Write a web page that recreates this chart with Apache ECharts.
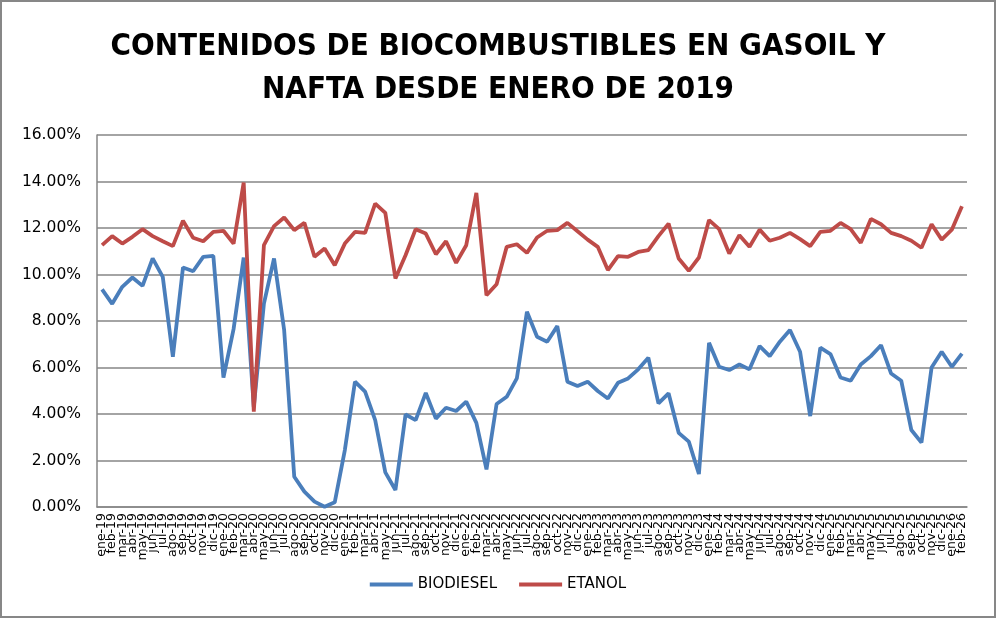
<!DOCTYPE html>
<html lang="es">

<head>
    <meta charset="UTF-8">
    <title>Contenidos de biocombustibles</title>
    <script src="https://cdn.jsdelivr.net/npm/echarts@6/dist/echarts.min.js"></script>
    <style>
        html, body { margin: 0; padding: 0; background: #fff; }
        #chart {
            width: 996px;
            height: 618px;
            box-sizing: border-box;
            border: 2px solid #878787;
        }
    </style>
</head>

<body>
    <div id="chart"></div>

    <script>
        // meses desde ene-19 hasta feb-26
        var meses = ['ene', 'feb', 'mar', 'abr', 'may', 'jun', 'jul', 'ago', 'sep', 'oct', 'nov', 'dic'];
        var categorias = [];
        for (var a = 19; a <= 26; a++) {
            for (var m = 0; m < 12; m++) {
                if (a === 26 && m > 1) break;
                categorias.push(meses[m] + '-' + a);
            }
        }

        // valores en %
        var biodiesel = [
            9.36, 8.74, 9.47, 9.87, 9.51, 10.69, 9.90, 6.46, 10.30, 10.14, 10.76, 10.80,
            5.57, 7.65, 10.73, 4.30, 8.75, 10.69, 7.61, 1.30, 0.66, 0.23, 0.01, 0.20,
            2.45, 5.39, 4.96, 3.74, 1.49, 0.73, 3.98, 3.74, 4.91, 3.80, 4.27, 4.13,
            4.53, 3.62, 1.62, 4.43, 4.74, 5.53, 8.40, 7.32, 7.11, 7.78, 5.39, 5.20,
            5.39, 4.99, 4.67, 5.34, 5.53, 5.92, 6.42, 4.46, 4.89, 3.19, 2.81, 1.42,
            7.06, 6.03, 5.89, 6.13, 5.92, 6.92, 6.49, 7.11, 7.61, 6.68, 3.91, 6.85,
            6.58, 5.57, 5.43, 6.13, 6.49, 6.96, 5.74, 5.43, 3.31, 2.77, 6.00, 6.68,
            6.03, 6.60
        ];
        var etanol = [
            11.26, 11.65, 11.33, 11.62, 11.95, 11.65, 11.43, 11.22, 12.31, 11.58, 11.43, 11.83,
            11.88, 11.33, 13.95, 4.10, 11.26, 12.08, 12.45, 11.91, 12.22, 10.76, 11.12, 10.40,
            11.33, 11.83, 11.79, 13.05, 12.65, 9.83, 10.83, 11.95, 11.76, 10.87, 11.43, 10.50,
            11.26, 13.51, 9.11, 9.58, 11.19, 11.30, 10.93, 11.59, 11.88, 11.91, 12.22, 11.86,
            11.50, 11.19, 10.19, 10.79, 10.76, 10.97, 11.05, 11.65, 12.19, 10.69, 10.16, 10.73,
            12.34, 11.95, 10.90, 11.69, 11.19, 11.93, 11.45, 11.58, 11.79, 11.52, 11.22, 11.83,
            11.88, 12.22, 11.95, 11.36, 12.39, 12.16, 11.79, 11.65, 11.45, 11.15, 12.16, 11.50,
            11.93, 12.94
        ];

        var chart = echarts.init(document.getElementById('chart'));

        var option = {
            animation: false,
            backgroundColor: '#fff',
            title: {
                text: 'CONTENIDOS DE BIOCOMBUSTIBLES EN GASOIL Y\nNAFTA DESDE ENERO DE 2019',
                left: 'center',
                top: 18,
                textStyle: {
                    fontFamily: "'Liberation Sans Narrow', 'DejaVu Sans Condensed', sans-serif",
                    fontWeight: 'bold',
                    fontSize: 31,
                    lineHeight: 43,
                    color: '#000'
                }
            },
            legend: {
                bottom: 19,
                left: 'center',
                icon: 'rect',
                itemWidth: 43,
                itemHeight: 4,
                itemGap: 22,
                textStyle: { fontFamily: 'DejaVu Sans', fontSize: 15, color: '#000' },
                data: ['BIODIESEL', 'ETANOL']
            },
            grid: {
                left: 95,
                right: 27,
                top: 133,
                bottom: 109
            },
            xAxis: {
                type: 'category',
                data: categorias,
                boundaryGap: true,
                axisLine: { lineStyle: { color: '#868686', width: 1.5 } },
                axisTick: { show: false },
                axisLabel: {
                    interval: 0,
                    rotate: 90,
                    margin: 6,
                    fontFamily: 'DejaVu Sans',
                    fontSize: 12.5,
                    color: '#000'
                }
            },
            yAxis: {
                type: 'value',
                min: 0,
                max: 16,
                interval: 2,
                axisLine: { show: true, lineStyle: { color: '#868686', width: 1.5 } },
                axisTick: { show: false },
                splitLine: { lineStyle: { color: '#868686', width: 1.5 } },
                axisLabel: {
                    margin: 16,
                    fontFamily: 'DejaVu Sans',
                    fontSize: 15.5,
                    color: '#000',
                    formatter: function (v) { return v.toFixed(2) + '%'; }
                }
            },
            series: [
                {
                    name: 'BIODIESEL',
                    type: 'line',
                    data: biodiesel,
                    symbol: 'none',
                    color: '#4A7EBB',
                    lineStyle: { width: 3.8, color: '#4A7EBB' }
                },
                {
                    name: 'ETANOL',
                    type: 'line',
                    data: etanol,
                    symbol: 'none',
                    color: '#BE4B48',
                    lineStyle: { width: 3.8, color: '#BE4B48' }
                }
            ]
        };

        chart.setOption(option);
    </script>
</body>

</html>
